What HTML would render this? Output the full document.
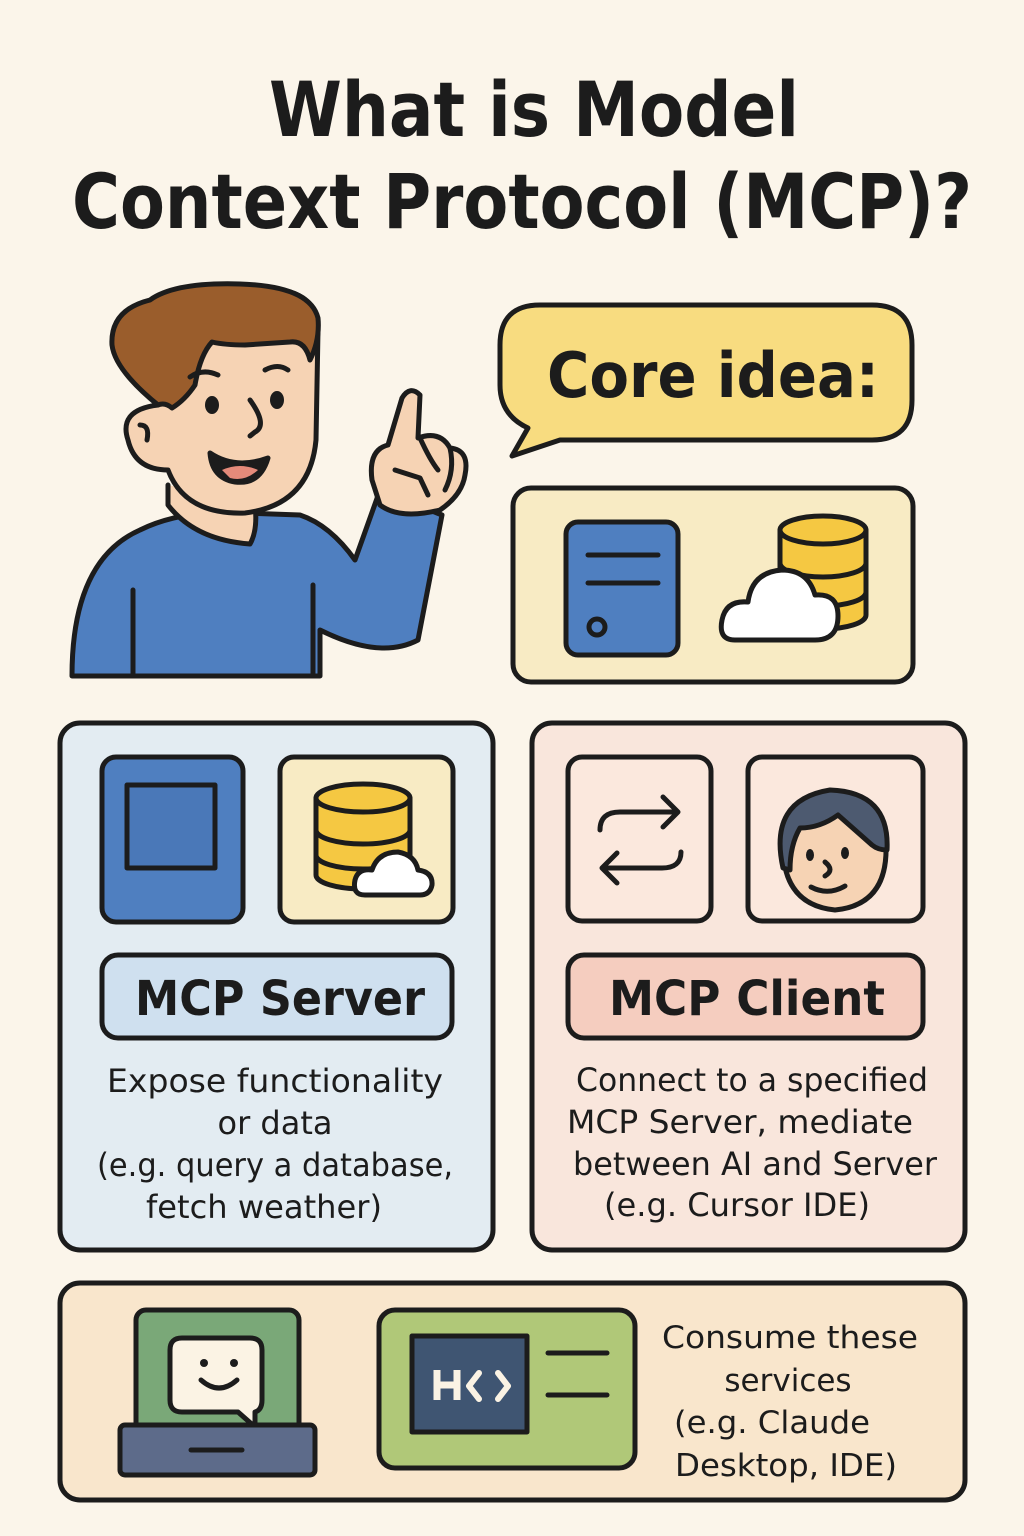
<!DOCTYPE html>
<html><head><meta charset="utf-8"><style>
html,body{margin:0;padding:0;background:#fbf5ea;}
svg{display:block;}
text{font-family:"DejaVu Sans","Liberation Sans",sans-serif;fill:#1c1c1c;}
</style></head><body>
<svg width="1024" height="1536" viewBox="0 0 1024 1536" xmlns="http://www.w3.org/2000/svg">
<rect width="1024" height="1536" fill="#fbf5ea"/>
<g stroke="#1c1c1c" stroke-width="5" stroke-linejoin="round" stroke-linecap="round">
<text x="534" y="136" font-size="76" font-weight="bold" text-anchor="middle" stroke="none" textLength="530" lengthAdjust="spacingAndGlyphs">What is Model</text>
<text x="522" y="228" font-size="76" font-weight="bold" text-anchor="middle" stroke="none" textLength="900" lengthAdjust="spacingAndGlyphs">Context Protocol (MCP)?</text>

<path d="M540 305 H872 Q912 305 912 345 V400 Q912 440 872 440 H560 L512 456 L528 428 Q500 415 500 385 V345 Q500 305 540 305 Z" fill="#f8dc80"/>
<text x="713" y="397" font-size="62" font-weight="bold" text-anchor="middle" stroke="none" textLength="332" lengthAdjust="spacingAndGlyphs">Core idea:</text>

<rect x="513" y="488" width="400" height="194" rx="18" fill="#f8ebc4"/>
<rect x="566" y="522" width="112" height="133" rx="12" fill="#4f7fc0"/>
<line x1="588" y1="555" x2="658" y2="555"/>
<line x1="588" y1="583" x2="658" y2="583"/>
<circle cx="597" cy="627" r="8" fill="#4f7fc0"/>
<path d="M780 530 V615 A43 14 0 0 0 866 615 V530" fill="#f5c842"/>
<ellipse cx="823" cy="530" rx="43" ry="14" fill="#f5c842"/>
<path d="M780 563 A43 14 0 0 0 866 563 M780 592 A43 14 0 0 0 866 592" fill="none"/>
<path d="M735 640 Q718 640 722 620 Q726 600 748 602 Q752 572 782 570 Q808 570 815 595 Q838 593 838 616 Q838 640 815 640 Z" fill="#fff"/>

<!-- character -->
<path d="M72 676 Q72 560 140 530 Q170 515 215 512 L300 515 Q330 525 355 560 L380 490 L442 515 L418 640 Q380 660 320 630 L320 676 Z" fill="#4f7fc0"/>
<path d="M133 675 V590 M313 675 V585" fill="none"/>
<path d="M168 485 V505 Q195 540 250 544 Q258 530 255 505" fill="#f6d3b4"/>
<path d="M165 330 Q170 300 210 295 Q250 288 290 292 Q318 300 318 330 L316 440 Q310 505 245 513 Q185 515 168 470 Q135 470 128 440 Q118 410 158 405 Z" fill="#f6d3b4"/>
<path d="M158 405 Q115 370 112 345 Q110 310 150 300 Q175 282 240 284 Q310 286 318 318 Q320 340 310 360 Q305 340 290 342 L245 345 Q225 345 212 342 Q200 355 195 385 Q185 400 172 408 Q165 402 158 405 Z" fill="#9a5d2c"/>
<path d="M140 425 Q150 425 147 440" fill="none"/>
<path d="M190 377 Q203 368 218 375 M265 370 Q278 363 288 370" fill="none"/>
<ellipse cx="212" cy="405" rx="7" ry="9" fill="#1c1c1c" stroke="none"/>
<ellipse cx="277" cy="400" rx="7" ry="9" fill="#1c1c1c" stroke="none"/>
<path d="M250 400 Q268 425 255 432 L250 436" fill="none"/>
<path d="M210 453 Q235 470 268 458 Q260 485 235 482 Q212 478 210 453 Z" fill="#1c1c1c"/>
<path d="M222 470 Q240 462 258 470 Q245 482 230 478 Z" fill="#e58a7a" stroke="none"/>
<path d="M372 480 Q368 450 388 445 L402 398 Q410 385 420 395 L418 438 Q440 430 450 448 Q470 450 465 475 Q462 495 440 510 Q400 520 380 505 Z" fill="#f6d3b4"/>
<path d="M395 470 L420 478 L428 495 M420 438 Q430 460 438 470 M450 448 Q455 470 445 490" fill="none"/>

<!-- left panel -->
<rect x="60" y="723" width="433" height="527" rx="20" fill="#e3ecf2"/>
<rect x="102" y="757" width="141" height="165" rx="14" fill="#4f7fc0"/>
<rect x="127" y="785" width="88" height="83" fill="#4a78b8"/>
<rect x="280" y="757" width="173" height="165" rx="14" fill="#f8ebc4"/>
<path d="M316 798 V875 A47 14 0 0 0 410 875 V798" fill="#f5c842"/>
<ellipse cx="363" cy="798" rx="47" ry="14" fill="#f5c842"/>
<path d="M316 830 A47 14 0 0 0 410 830 M316 855 A47 14 0 0 0 410 855" fill="none"/>
<path d="M365 895 Q352 895 355 880 Q358 868 372 870 Q378 852 398 852 Q415 855 418 870 Q433 872 432 885 Q430 895 420 895 Z" fill="#fff"/>
<rect x="102" y="955" width="350" height="83" rx="16" fill="#cfe0ef"/>
<text x="280" y="1015" font-size="48" font-weight="bold" text-anchor="middle" stroke="none" textLength="290" lengthAdjust="spacingAndGlyphs">MCP Server</text>
<g stroke="none" font-size="32" text-anchor="middle">
<text x="275" y="1092" textLength="336" lengthAdjust="spacingAndGlyphs">Expose functionality</text>
<text x="275" y="1134">or data</text>
<text x="275" y="1176" textLength="356" lengthAdjust="spacingAndGlyphs">(e.g. query a database,</text>
<text x="264" y="1218" textLength="236" lengthAdjust="spacingAndGlyphs">fetch weather)</text>
</g>

<!-- right panel -->
<rect x="532" y="723" width="433" height="527" rx="20" fill="#f9e6dc"/>
<rect x="568" y="757" width="143" height="164" rx="14" fill="#fbe8dd"/>
<path d="M600 830 Q600 812 620 812 H678 M663 797 L678 812 L663 827" fill="none"/>
<path d="M681 852 Q681 868 662 868 H602 M617 853 L602 868 L617 883" fill="none"/>
<rect x="748" y="757" width="175" height="164" rx="14" fill="#fbe8dd"/>
<path d="M783 850 Q778 800 832 792 Q884 795 886 845 Q888 905 835 910 Q785 905 783 850 Z" fill="#f6d3b4"/>
<path d="M783 868 Q768 800 830 790 Q890 792 887 850 Q878 850 872 845 Q855 830 838 815 Q820 828 800 828 Q790 845 790 870 Z" fill="#4d5a70"/>
<ellipse cx="810" cy="855" rx="4" ry="6" fill="#1c1c1c" stroke="none"/>
<ellipse cx="845" cy="853" rx="4" ry="6" fill="#1c1c1c" stroke="none"/>
<path d="M825 862 Q835 870 825 876 M811 887 Q828 896 845 886" fill="none"/>
<rect x="568" y="955" width="355" height="83" rx="16" fill="#f5cdbf"/>
<text x="747" y="1015" font-size="48" font-weight="bold" text-anchor="middle" stroke="none" textLength="276" lengthAdjust="spacingAndGlyphs">MCP Client</text>
<g stroke="none" font-size="32" text-anchor="middle">
<text x="752" y="1091" textLength="352" lengthAdjust="spacingAndGlyphs">Connect to a specified</text>
<text x="740" y="1133" textLength="346" lengthAdjust="spacingAndGlyphs">MCP Server, mediate</text>
<text x="755" y="1175" textLength="364" lengthAdjust="spacingAndGlyphs">between AI and Server</text>
<text x="737" y="1216" textLength="266" lengthAdjust="spacingAndGlyphs">(e.g. Cursor IDE)</text>
</g>

<!-- bottom panel -->
<rect x="60" y="1283" width="905" height="217" rx="20" fill="#f9e6cc"/>
<rect x="136" y="1310" width="163" height="125" rx="10" fill="#7aa878"/>
<path d="M182 1338 H250 Q262 1338 262 1350 V1400 Q262 1410 255 1412 L255 1427 L238 1412 H182 Q170 1412 170 1400 V1350 Q170 1338 182 1338 Z" fill="#fbf3e4"/>
<circle cx="204" cy="1363" r="4" fill="#1c1c1c" stroke="none"/>
<circle cx="234" cy="1363" r="4" fill="#1c1c1c" stroke="none"/>
<path d="M201 1380 Q219 1396 237 1380" fill="none"/>
<rect x="120" y="1425" width="195" height="50" rx="5" fill="#5d6b8a"/>
<line x1="191" y1="1450" x2="242" y2="1450"/>
<rect x="379" y="1310" width="256" height="158" rx="16" fill="#b0c878"/>
<rect x="412" y="1336" width="115" height="96" fill="#3f5572"/>
<path d="M437 1370 V1400 M457 1370 V1400 M437 1385 H457" fill="none" stroke="#fbf3e4" stroke-width="7" stroke-linecap="butt"/>
<path d="M479 1373 L469 1386 L479 1399 M498 1373 L508 1386 L498 1399" fill="none" stroke="#fbf3e4" stroke-width="6"/>
<line x1="548" y1="1353" x2="607" y2="1353"/>
<line x1="548" y1="1395" x2="607" y2="1395"/>
<g stroke="none" font-size="31" text-anchor="middle">
<text x="790" y="1348" textLength="256" lengthAdjust="spacingAndGlyphs">Consume these</text>
<text x="788" y="1391">services</text>
<text x="772" y="1433" textLength="196" lengthAdjust="spacingAndGlyphs">(e.g. Claude</text>
<text x="786" y="1476" textLength="222" lengthAdjust="spacingAndGlyphs">Desktop, IDE)</text>
</g>
</g>
</svg>
</body></html>
